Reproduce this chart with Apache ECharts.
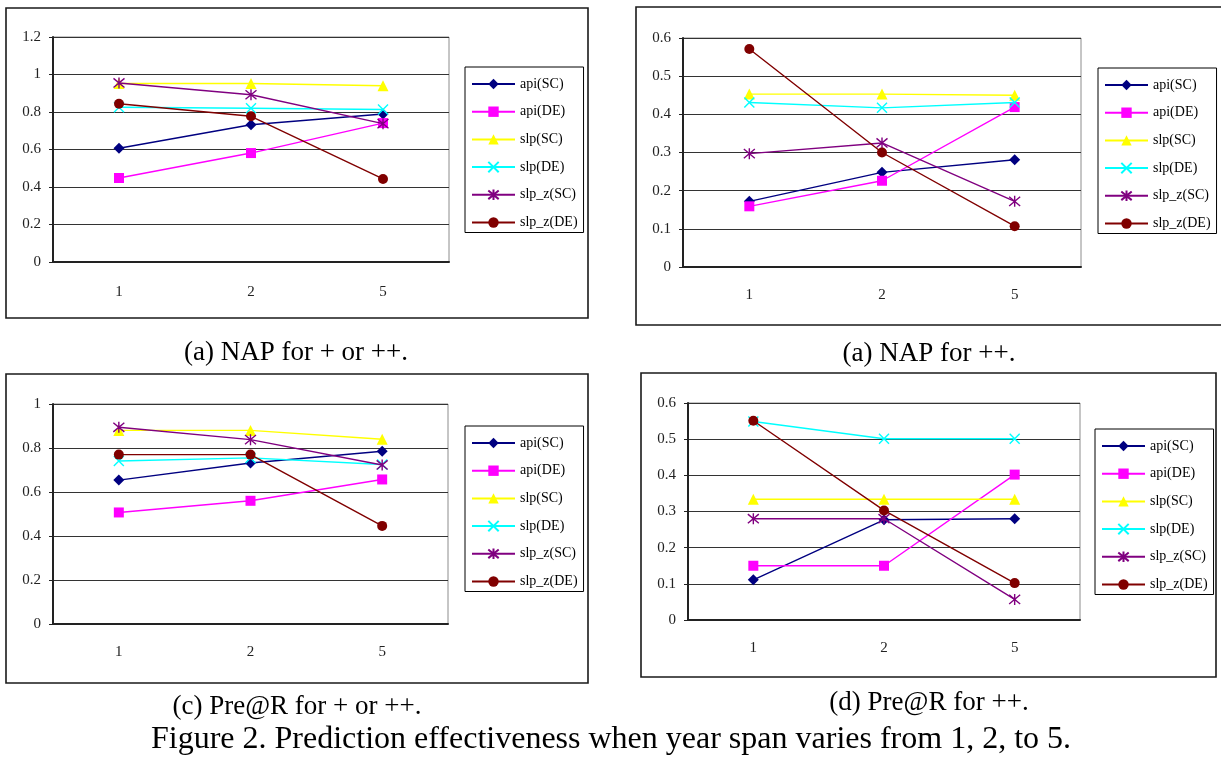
<!DOCTYPE html>
<html>
<head>
<meta charset="utf-8">
<script src="https://cdn.jsdelivr.net/npm/echarts@6/dist/echarts.min.js"></script>
<style>
  html, body { margin: 0; padding: 0; background: #fff; }
  #chart { width: 1221px; height: 758px; }
</style>
</head>
<body>
<div id="chart"></div>
<script>
// year span categories and series names (same for all four panels)
const years = ['1', '2', '5'];
const seriesNames = ['api(SC)', 'api(DE)', 'slp(SC)', 'slp(DE)', 'slp_z(SC)', 'slp_z(DE)'];

// (a) NAP for + or ++  — one row per series, one value per year span
const napAnyValues = [
  [0.607, 0.732, 0.789],
  [0.448, 0.581, 0.741],
  [0.952, 0.952, 0.940],
  [0.825, 0.820, 0.813],
  [0.955, 0.892, 0.738],
  [0.844, 0.777, 0.443]
];
// (a) NAP for ++
const napPlusValues = [
  [0.172, 0.248, 0.281],
  [0.159, 0.226, 0.419],
  [0.453, 0.453, 0.450],
  [0.431, 0.417, 0.431],
  [0.297, 0.325, 0.172],
  [0.571, 0.300, 0.107]
];
// (c) Pre@R for + or ++
const preAnyValues = [
  [0.654, 0.732, 0.785],
  [0.507, 0.560, 0.657],
  [0.880, 0.880, 0.840],
  [0.741, 0.755, 0.725],
  [0.894, 0.838, 0.723],
  [0.770, 0.770, 0.446]
];
// (d) Pre@R for ++
const prePlusValues = [
  [0.111, 0.277, 0.280],
  [0.150, 0.150, 0.402],
  [0.334, 0.334, 0.334],
  [0.549, 0.501, 0.501],
  [0.280, 0.280, 0.057],
  [0.551, 0.303, 0.102]
];

const captions = ['(a) NAP for + or ++.', '(a) NAP for ++.', '(c) Pre@R for + or ++.', '(d) Pre@R for ++.'];
const figureTitle = 'Figure 2. Prediction effectiveness when year span varies from 1, 2, to 5.';

const SERIF = 'Liberation Serif';

// marker look per series (Excel default style)
const markers = [
  { color: '#000080', symbol: 'diamond', size: 11 },
  { color: '#ff00ff', symbol: 'rect', size: 10 },
  { color: '#ffff00', symbol: 'triangle', size: 11 },
  { color: '#00ffff', symbol: 'path://M0,0L10,10M10,0L0,10', size: 10, stroke: true },
  { color: '#800080', symbol: 'path://M0,0L10,10M10,0L0,10M5,-1L5,11', size: 11, stroke: true },
  { color: '#800000', symbol: 'circle', size: 10 }
];

const panels = [
  { values: napAnyValues,  grid: { left: 53,  top: 37,  width: 396, height: 225 }, max: 1.2, interval: 0.2, legend: { left: 465,  top: 67 },  labelMargin: 23 },
  { values: napPlusValues, grid: { left: 683, top: 38,  width: 398, height: 229 }, max: 0.6, interval: 0.1, legend: { left: 1098, top: 68 },  labelMargin: 21 },
  { values: preAnyValues,  grid: { left: 53,  top: 404, width: 395, height: 220 }, max: 1.0, interval: 0.2, legend: { left: 465,  top: 426 }, labelMargin: 21 },
  { values: prePlusValues, grid: { left: 688, top: 403, width: 392, height: 217 }, max: 0.6, interval: 0.1, legend: { left: 1095, top: 429 }, labelMargin: 21 }
];

const frames = [
  { x: 6,   y: 8,   w: 582, h: 310 },
  { x: 636, y: 7,   w: 600, h: 318 },
  { x: 6,   y: 374, w: 582, h: 309 },
  { x: 641, y: 373, w: 575, h: 304 }
];

const captionPos = [[296, 353], [929, 354], [297, 707], [929, 703]];

const chart = echarts.init(document.getElementById('chart'), null, { renderer: 'canvas' });

const grid = [], xAxis = [], yAxis = [], series = [], legend = [];

panels.forEach((p, i) => {
  grid.push(Object.assign({ show: true, borderColor: '#8c8c8c', borderWidth: 1, backgroundColor: '#fff' }, p.grid));
  xAxis.push({
    type: 'category', gridIndex: i, data: years, boundaryGap: true,
    axisLine: { lineStyle: { color: '#222', width: 2 } },
    axisTick: { inside: true, length: 5, lineStyle: { color: '#222', width: 1 } },
    axisLabel: { color: '#222', fontFamily: SERIF, fontSize: 15, margin: p.labelMargin },
    splitLine: { show: false }
  });
  yAxis.push({
    type: 'value', gridIndex: i, min: 0, max: p.max, interval: p.interval,
    axisLine: { show: true, lineStyle: { color: '#222', width: 2 } },
    axisTick: { show: true, length: 4, lineStyle: { color: '#222' } },
    axisLabel: { color: '#222', fontFamily: SERIF, fontSize: 15, margin: 12 },
    splitLine: { show: true, lineStyle: { color: '#333', width: 1 } }
  });
  seriesNames.forEach((name, k) => {
    const m = markers[k];
    series.push({
      type: 'line', name, xAxisIndex: i, yAxisIndex: i,
      data: p.values[k],
      symbol: m.symbol, symbolSize: m.size,
      showAllSymbol: true, animation: false,
      lineStyle: { color: m.color, width: 1.4 },
      itemStyle: m.stroke
        ? { color: m.color, borderColor: m.color, borderWidth: 1.4 }
        : { color: m.color, borderWidth: 0 },
      emphasis: { disabled: true },
      z: 2 + k
    });
  });
  legend.push({
    orient: 'vertical', left: p.legend.left, top: p.legend.top,
    data: seriesNames,
    padding: [10, 6, 3, 6], itemGap: 13.7, itemWidth: 43, itemHeight: 13, itemTextGap: 5,
    borderColor: '#000', borderWidth: 1, backgroundColor: '#fff',
    selectedMode: false,
    textStyle: { color: '#000', fontFamily: SERIF, fontSize: 14 }
  });
});

const graphic = [];
frames.forEach(f => {
  graphic.push({
    type: 'rect', silent: true, z: -10,
    shape: { x: f.x, y: f.y, width: f.w, height: f.h },
    style: { fill: 'none', stroke: '#1a1a1a', lineWidth: 1.6 }
  });
});
captions.forEach((c, i) => {
  graphic.push({
    type: 'text', silent: true, x: captionPos[i][0], y: captionPos[i][1],
    style: { text: c, fill: '#000', font: '27px "Liberation Serif"', align: 'center', verticalAlign: 'middle' }
  });
});
graphic.push({
  type: 'text', silent: true, x: 611, y: 740,
  style: { text: figureTitle, fill: '#000', font: '32px "Liberation Serif"', align: 'center', verticalAlign: 'middle' }
});

chart.setOption({
  backgroundColor: '#fff',
  animation: false,
  grid, xAxis, yAxis, series, legend, graphic
});
</script>
</body>
</html>
